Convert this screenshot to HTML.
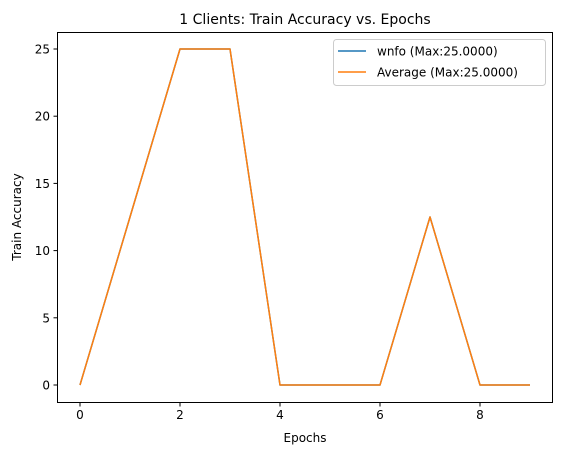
<!DOCTYPE html>
<html><head><meta charset="utf-8"><style>
body{margin:0;background:#fff}
svg{display:block;font-family:"DejaVu Sans","Liberation Sans",sans-serif}
</style></head><body>
<svg id="chart" width="562" height="455" xmlns="http://www.w3.org/2000/svg">
<rect x="0" y="0" width="562" height="455" fill="#fff"/>
<text x="305" y="24" font-size="14" text-anchor="middle">1 Clients: Train Accuracy vs. Epochs</text>
<g id="xticks"></g><g id="yticks"></g>
<g id="lines"></g>
<rect x="57.5" y="32.5" width="495" height="370" fill="none" stroke="#000" stroke-width="1"/>
<text x="305" y="442" font-size="12" text-anchor="middle">Epochs</text>
<text transform="translate(21,217) rotate(-90)" font-size="12" text-anchor="middle">Train Accuracy</text>
<g>
<rect x="333.5" y="39.5" width="212" height="46" rx="3" fill="#fff" fill-opacity="0.8" stroke="#ccc"/>
<line x1="338" y1="51" x2="366" y2="51" stroke="#1f77b4" stroke-width="1.5"/>
<text x="377" y="55.5" font-size="12">wnfo (Max:25.0000)</text>
<line x1="338" y1="72" x2="366" y2="72" stroke="#ff7f0e" stroke-width="1.5"/>
<text x="377" y="76.5" font-size="12">Average (Max:25.0000)</text>
</g>
</svg>
<script>
const epochs=[0,1,2,3,4,5,6,7,8,9];
const wnfo=[0,12.5,25,25,0,0,0,12.5,0,0];
const average=[0,12.5,25,25,0,0,0,12.5,0,0];
const xTicks=[0,2,4,6,8];
const yTicks=[0,5,10,15,20,25];
const NS='http://www.w3.org/2000/svg';
const x=v=>80+(v-0)*50;
const y=v=>385-v*(336/25);
function mk(t,a,p){const e=document.createElementNS(NS,t);for(const k in a)e.setAttribute(k,a[k]);p.appendChild(e);return e;}
const xg=document.getElementById('xticks'),yg=document.getElementById('yticks'),lg=document.getElementById('lines');
xTicks.forEach(v=>{
 const l=mk('line',{x1:x(v),x2:x(v),y1:402.5,y2:406.5,stroke:'#000'},xg);
 
 
 const t=mk('text',{x:x(v),y:419,'font-size':12,'text-anchor':'middle'},xg);t.textContent=v;
 
 
});
yTicks.forEach(v=>{
 const l=mk('line',{x1:53.5,x2:57.5,y1:y(v),y2:y(v),stroke:'#000'},yg);
 
 
 const t=mk('text',{x:50,y:y(v)+4.5,'font-size':12,'text-anchor':'end'},yg);t.textContent=v;
 
 
});
function series(vals,color,name){
 const p=mk('polyline',{points:epochs.map((e,i)=>x(e)+','+y(vals[i])).join(' '),fill:'none',stroke:color,'stroke-width':1.5,'stroke-linejoin':'round'},lg);
 
 
}
series(wnfo,'#1f77b4','wnfo-line');
series(average,'#ff7f0e','average-line');
</script>
</body></html>
